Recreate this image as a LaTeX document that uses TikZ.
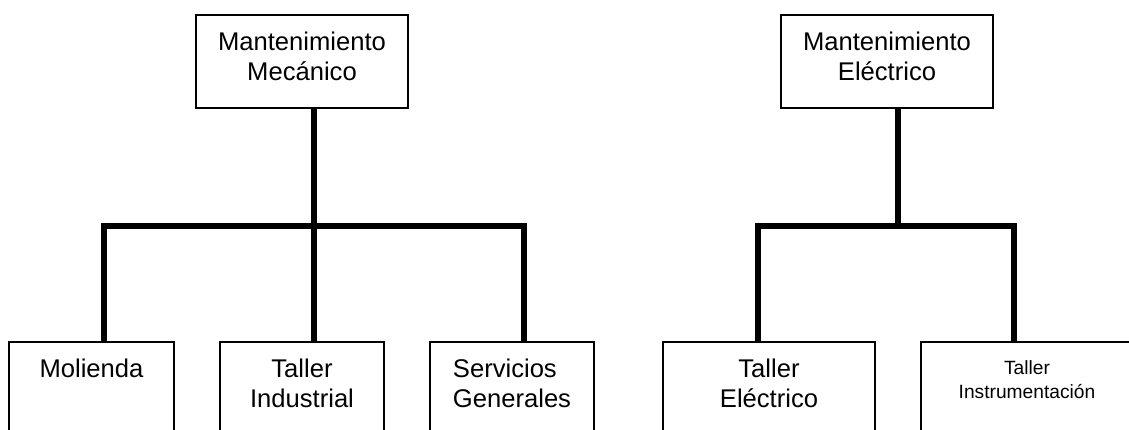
\documentclass[tikz,border=0pt]{standalone}
\usepackage{fontspec}
\setmainfont{Liberation Sans}
\begin{document}
\begin{tikzpicture}[x=1pt, y=-1pt,
  unitbox/.style={draw, line width=1.3pt, rectangle, inner sep=0pt, outer sep=0pt,
    anchor=north west, minimum width=#1},
  unitbox/.default=212pt,
  caption/.style={anchor=north, inner sep=0pt, outer sep=0pt, yshift=-17pt,
    align=center, font=\fontsize{25.6}{30}\selectfont},
  smallcaption/.style={caption, yshift=-2pt, font=\fontsize{19.2}{23.5}\selectfont},
  wire/.style={line width=6pt, line join=miter}]
  \useasboundingbox (0,0) rectangle (1129,430);
  \clip (0,0) rectangle (1129,430);

  % Heads of the two departments
  \node[unitbox, minimum height=93pt,
    label={[caption]north:Mantenimiento\\Mecánico}] (mec) at (196,15) {};
  \node[unitbox, minimum height=93pt,
    label={[caption]north:Mantenimiento\\Eléctrico}] (ele) at (781,15) {};

  % Sections (boxes run past the lower edge)
  \node[unitbox=165pt, minimum height=100pt,
    label={[caption]north:Molienda}] (mol) at (9,342) {};
  \node[unitbox=164pt, minimum height=100pt,
    label={[caption]north:Taller\\Industrial}] (ti) at (220,342) {};
  \node[unitbox=164pt, minimum height=100pt,
    label={[caption, align=left]north:Servicios\\Generales}] (sg) at (430,342) {};
  \node[unitbox, minimum height=100pt,
    label={[caption]north:Taller\\Eléctrico}] (te) at (663,342) {};
  \node[unitbox, minimum height=100pt,
    label={[smallcaption]north:Taller\\Instrumentación}] (tin) at (921,342) {};

  % Branching lines
  \coordinate (busM) at (314,226);
  \coordinate (busE) at (898,226);

  \draw[wire] ([xshift=118pt]mec.south west) -- ([xshift=94pt]ti.north west);
  \draw[wire] ([xshift=95pt]mol.north west) |- (busM) -| ([xshift=94pt]sg.north west);

  \draw[wire] ([xshift=117pt]ele.south west) -- (busE);
  \draw[wire] ([xshift=95pt]te.north west) |- (busE) -| ([xshift=93pt]tin.north west);
\end{tikzpicture}
\end{document}
